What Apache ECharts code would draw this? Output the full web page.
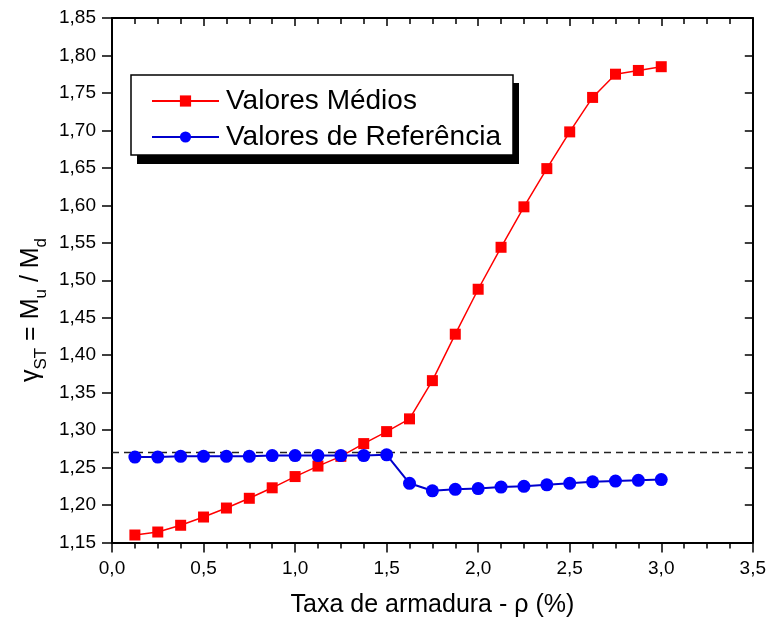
<!DOCTYPE html>
<html>
<head>
<meta charset="utf-8">
<script src="https://cdn.jsdelivr.net/npm/echarts@6/dist/echarts.min.js"></script>
<style>
  html, body { margin: 0; padding: 0; background: #fff; }
  #chart { width: 769px; height: 632px; }
</style>
</head>
<body>
<div id="chart"></div>
<script>
// Taxa de armadura (%) em que cada série foi avaliada
const rho = [0.125, 0.25, 0.375, 0.5, 0.625, 0.75, 0.875, 1.0, 1.125, 1.25, 1.375, 1.5,
             1.625, 1.75, 1.875, 2.0, 2.125, 2.25, 2.375, 2.5, 2.625, 2.75, 2.875, 3.0];

// gamma_ST = Mu / Md
const valoresMedios = [1.160, 1.164, 1.173, 1.184, 1.196, 1.209, 1.223, 1.238, 1.252, 1.265, 1.282, 1.298,
                       1.315, 1.366, 1.428, 1.488, 1.544, 1.598, 1.649, 1.698, 1.744, 1.775, 1.780, 1.785];
const valoresReferencia = [1.264, 1.264, 1.265, 1.265, 1.265, 1.265, 1.266, 1.266, 1.266, 1.266, 1.266, 1.267,
                           1.229, 1.219, 1.221, 1.222, 1.224, 1.225, 1.227, 1.229, 1.231, 1.232, 1.233, 1.234];

// Linha horizontal de referência, de ponta a ponta do eixo x
const limite = 1.27;
const xLimites = [0, 3.5];

const serieNomes = ['Valores Médios', 'Valores de Referência'];

const FONT = 'Arial, "Liberation Sans", sans-serif';
const pares = (ys) => rho.map((x, i) => [x, ys[i]]);
const virgula = (d) => (v) => v.toFixed(d).replace('.', ',');

const chart = echarts.init(document.getElementById('chart'), null, { renderer: 'canvas' });

const eixoBase = {
  axisLine: { onZero: false, lineStyle: { color: '#000', width: 2 } },
  splitLine: { show: false }
};

// Caixa da legenda com sombra sólida deslocada
const caixaLegenda = { x: 131, y: 75, width: 382, height: 80 };

chart.setOption({
  animation: false,
  backgroundColor: '#fff',
  textStyle: { fontFamily: FONT },
  grid: { left: 112, right: 16, top: 18, bottom: 89.5, containLabel: false },
  graphic: [
    {
      type: 'rect', z: 3, silent: true,
      shape: { x: caixaLegenda.x + 6, y: caixaLegenda.y + 8, width: caixaLegenda.width, height: caixaLegenda.height + 1 },
      style: { fill: '#000' }
    },
    {
      type: 'rect', z: 3, silent: true,
      shape: caixaLegenda,
      style: { fill: '#fff', stroke: '#000', lineWidth: 1.5 }
    },
    {
      // título do eixo vertical
      type: 'text', z: 5, silent: true,
      x: 31, y: 310,
      rotation: Math.PI / 2,
      style: {
        text: '{g|γ}{sub|ST}{t| = M}{sub|u}{t| / M}{sub|d}',
        align: 'center',
        verticalAlign: 'middle',
        fill: '#000',
        rich: {
          g: { fontSize: 25, fontFamily: FONT, fill: '#000', lineHeight: 38, verticalAlign: 'middle' },
          t: { fontSize: 25, fontFamily: FONT, fill: '#000', lineHeight: 38, verticalAlign: 'middle' },
          sub: { fontSize: 17, fontFamily: FONT, fill: '#000', lineHeight: 38, verticalAlign: 'bottom' }
        }
      }
    }
  ],
  legend: {
    data: serieNomes,
    orient: 'vertical',
    left: caixaLegenda.x,
    top: caixaLegenda.y,
    z: 6,
    padding: [11, 14, 5, 20],
    itemGap: 6,
    itemWidth: 67,
    itemHeight: 14,
    textStyle: { fontFamily: FONT, fontSize: 28, color: '#000', lineHeight: 30, padding: [0, 0, 0, 2] }
  },
  xAxis: [
    Object.assign({}, eixoBase, {
      type: 'value', position: 'bottom',
      min: 0, max: 3.5, interval: 0.5,
      axisTick: { show: true, length: 10, lineStyle: { color: '#000', width: 1.5 } },
      minorTick: { show: true, splitNumber: 4, length: 6, lineStyle: { color: '#000', width: 1.5 } },
      axisLabel: { formatter: virgula(1), fontSize: 19, color: '#000', margin: 17, fontFamily: FONT },
      name: 'Taxa de armadura - ρ (%)',
      nameLocation: 'middle',
      nameGap: 50,
      nameTextStyle: { fontSize: 25, color: '#000', fontFamily: FONT }
    }),
    Object.assign({}, eixoBase, {
      type: 'value', position: 'top',
      min: 0, max: 3.5, interval: 0.5,
      axisTick: { show: true, inside: true, length: 8, lineStyle: { color: '#000', width: 1.5 } },
      minorTick: { show: true, splitNumber: 4, length: 6, lineStyle: { color: '#000', width: 1.5 } },
      axisLabel: { show: false }
    })
  ],
  yAxis: [
    Object.assign({}, eixoBase, {
      type: 'value', position: 'left',
      min: 1.15, max: 1.85, interval: 0.05,
      axisTick: { show: true, length: 10, lineStyle: { color: '#000', width: 1.5 } },
      axisLabel: { formatter: virgula(2), fontSize: 19, color: '#000', margin: 16, fontFamily: FONT }
    }),
    Object.assign({}, eixoBase, {
      type: 'value', position: 'right',
      min: 1.15, max: 1.85, interval: 0.05,
      axisTick: { show: true, inside: true, length: 8, lineStyle: { color: '#000', width: 1.5 } },
      axisLabel: { show: false }
    })
  ],
  series: [
    {
      // linha tracejada de referência
      type: 'line',
      data: xLimites.map((x) => [x, limite]),
      z: 1,
      silent: true,
      showSymbol: false,
      symbol: 'none',
      lineStyle: { color: '#222', type: [7, 5], width: 1.5 }
    },
    {
      name: serieNomes[0],
      type: 'line',
      data: pares(valoresMedios),
      symbol: 'rect',
      symbolSize: 11,
      itemStyle: { color: '#ff0000' },
      lineStyle: { color: '#ff0000', width: 1.5 },
      z: 3
    },
    {
      name: serieNomes[1],
      type: 'line',
      data: pares(valoresReferencia),
      symbol: 'circle',
      symbolSize: 13,
      itemStyle: { color: '#0000ff' },
      lineStyle: { color: '#0000cc', width: 2 },
      z: 4
    }
  ]
});
</script>
</body>
</html>
